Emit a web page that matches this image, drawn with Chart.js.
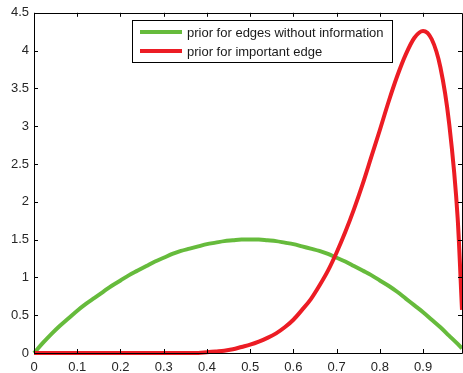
<!DOCTYPE html>
<html>
<head>
<meta charset="utf-8">
<script src="https://cdn.jsdelivr.net/npm/chart.js@4"></script>
<style>
  html, body { margin: 0; padding: 0; background: #fff; }
  #wrap { width: 463px; height: 373px; }
</style>
</head>
<body>
<div id="wrap"><canvas id="priorChart" width="463" height="373"></canvas></div>
<script>
// sample positions along x
const xs = [0, 0.02, 0.04, 0.06, 0.08, 0.10, 0.12, 0.14, 0.16, 0.18,
            0.20, 0.22, 0.24, 0.26, 0.28, 0.30, 0.32, 0.34, 0.36, 0.38,
            0.40, 0.42, 0.44, 0.46, 0.48, 0.50, 0.52, 0.54, 0.56, 0.58,
            0.60, 0.62, 0.64, 0.66, 0.68, 0.70, 0.72, 0.74, 0.76, 0.78,
            0.80, 0.82, 0.84, 0.86, 0.88, 0.90, 0.92, 0.94, 0.96, 0.98, 0.99];

const noInfoPrior = [0, 0.13, 0.25, 0.36, 0.46, 0.56, 0.65, 0.73, 0.81, 0.89,
                     0.96, 1.03, 1.09, 1.15, 1.21, 1.26, 1.31, 1.35, 1.38, 1.41,
                     1.44, 1.46, 1.48, 1.49, 1.50, 1.50, 1.50, 1.49, 1.48, 1.46,
                     1.44, 1.41, 1.38, 1.35, 1.31, 1.26, 1.21, 1.15, 1.09, 1.03,
                     0.96, 0.89, 0.81, 0.72, 0.63, 0.54, 0.44, 0.34, 0.23, 0.12, 0.06];

const importantPrior = [0, 0, 0, 0, 0, 0, 0, 0, 0, 0,
                        0, 0, 0, 0, 0, 0, 0, 0, 0, 0,
                        0.01, 0.02, 0.03, 0.05, 0.08, 0.11, 0.15, 0.20, 0.26, 0.34,
                        0.44, 0.57, 0.71, 0.89, 1.09, 1.33, 1.60, 1.90, 2.23, 2.59,
                        2.95, 3.32, 3.66, 3.95, 4.17, 4.26, 4.15, 3.78, 3.05, 1.78, 0.57];

const seriesNames = ['prior for edges without information', 'prior for important edge'];
const seriesColors = ['#66bb3c', '#ec1c24'];

const yTicks = [0, 0.5, 1, 1.5, 2, 2.5, 3, 3.5, 4, 4.5];
const xTicks = [0, 0.1, 0.2, 0.3, 0.4, 0.5, 0.6, 0.7, 0.8, 0.9];

const FONT = { family: '"Liberation Sans", Arial, sans-serif', size: 13 };

function toPoints(vals) {
    return xs.map((x, i) => ({ x: x, y: vals[i] }));
}

// MATLAB style box with inward ticks
const boxPlugin = {
    id: 'boxPlugin',
    afterDraw(chart) {
        const ctx = chart.ctx;
        const a = chart.chartArea;
        const xs_ = chart.scales.x, ys_ = chart.scales.y;
        ctx.save();
        ctx.strokeStyle = '#000';
        ctx.lineWidth = 1;
        ctx.beginPath();
        ctx.rect(Math.round(a.left) + 0.5, Math.round(a.top) + 0.5,
                 Math.round(a.right - a.left), Math.round(a.bottom - a.top));
        ctx.stroke();
        ctx.beginPath();
        xTicks.forEach(v => {
            const px = Math.round(xs_.getPixelForValue(v)) + 0.5;
            ctx.moveTo(px, a.bottom); ctx.lineTo(px, a.bottom - 4);
            ctx.moveTo(px, a.top); ctx.lineTo(px, a.top + 4);
        });
        yTicks.forEach(v => {
            const py = Math.round(ys_.getPixelForValue(v)) + 0.5;
            ctx.moveTo(a.left, py); ctx.lineTo(a.left + 4, py);
            ctx.moveTo(a.right, py); ctx.lineTo(a.right - 4, py);
        });
        ctx.stroke();

        // legend box
        const lx = 132.5, ly = 20.5, lw = 260, lh = 42;
        ctx.fillStyle = '#fff';
        ctx.fillRect(lx, ly, lw, lh);
        ctx.strokeRect(lx, ly, lw, lh);
        ctx.font = FONT.size + 'px ' + FONT.family;
        ctx.textBaseline = 'middle';
        chart.data.datasets.forEach((ds, i) => {
            const yy = 32 + i * 19;
            ctx.strokeStyle = ds.borderColor;
            ctx.lineWidth = 4;
            ctx.beginPath();
            ctx.moveTo(140, yy); ctx.lineTo(182, yy);
            ctx.stroke();
            ctx.fillStyle = '#1a1a1a';
            ctx.fillText(ds.label, 187, yy + 1);
        });
        ctx.restore();
    }
};

new Chart(document.getElementById('priorChart'), {
    type: 'line',
    data: {
        datasets: [
            {
                label: seriesNames[0],
                data: toPoints(noInfoPrior),
                borderColor: seriesColors[0],
                borderWidth: 4,
                pointRadius: 0,
                cubicInterpolationMode: 'monotone',
                clip: 6,
                order: 1
            },
            {
                label: seriesNames[1],
                data: toPoints(importantPrior),
                borderColor: seriesColors[1],
                borderWidth: 4,
                pointRadius: 0,
                cubicInterpolationMode: 'monotone',
                clip: 6,
                order: 0
            }
        ]
    },
    options: {
        responsive: false,
        animation: false,
        layout: { padding: { top: 12, right: 1, left: 0, bottom: 0 } },
        plugins: { legend: { display: false }, tooltip: { enabled: false } },
        scales: {
            x: {
                type: 'linear',
                min: 0,
                max: 0.99,
                afterFit(scale) { scale.height = 20; },
                afterBuildTicks(scale) { scale.ticks = xTicks.map(v => ({ value: v })); },
                grid: { display: false, drawTicks: false },
                border: { display: false },
                ticks: {
                    color: '#262626',
                    font: FONT,
                    padding: 7,
                    maxRotation: 0,
                    callback: v => String(Math.round(v * 10) / 10)
                }
            },
            y: {
                min: 0,
                max: 4.5,
                afterFit(scale) { scale.width = 34; },
                afterBuildTicks(scale) { scale.ticks = yTicks.map(v => ({ value: v })); },
                grid: { display: false, drawTicks: false },
                border: { display: false },
                ticks: {
                    color: '#262626',
                    font: FONT,
                    padding: 5,
                    callback: v => String(v)
                }
            }
        }
    },
    plugins: [boxPlugin]
});
</script>
</body>
</html>
